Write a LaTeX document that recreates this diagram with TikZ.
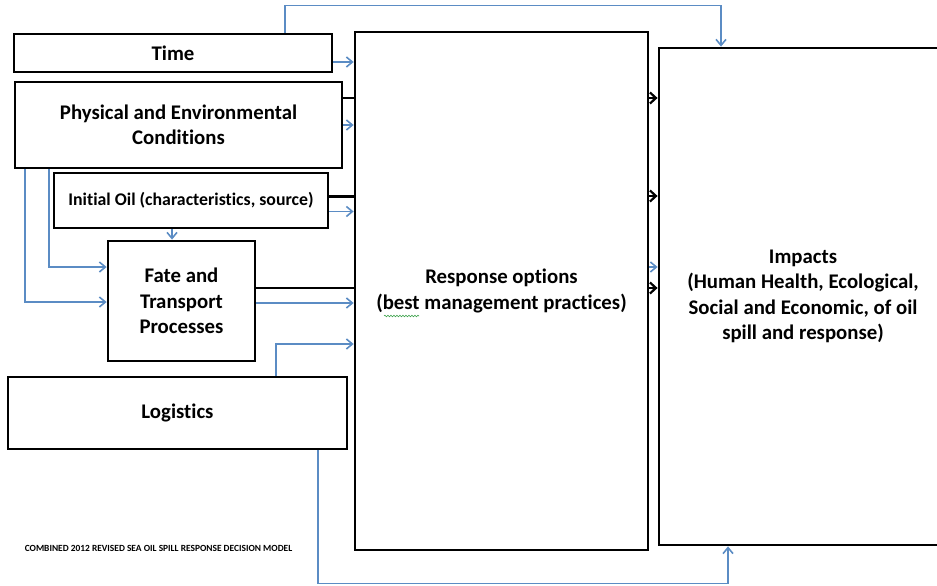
\documentclass[tikz,border=0pt]{standalone}
\usepackage{fontspec}
\setmainfont{Carlito}[Ligatures=NoCommon]
\usetikzlibrary{arrows.meta,decorations.pathmorphing}
\definecolor{linkblue}{HTML}{5B8CC4}
\definecolor{spellgreen}{HTML}{3FA34D}
\tikzset{
  box/.style={draw=black, line width=2.8pt, fill=white, rectangle, inner sep=0pt,
    align=center, font=\fontsize{20.8}{25.5}\selectfont\bfseries},
  flow/.style={draw=linkblue, line width=1.6pt, -{Straight Barb[length=6pt,width=10pt]}},
  flowline/.style={draw=linkblue, line width=1.6pt},
  link/.style={draw=black, line width=2.2pt},
  linkarrow/.style={draw=black, line width=2.2pt, -{Straight Barb[length=6pt,width=11pt]}},
}
\begin{document}
\begin{tikzpicture}[x=1pt,y=-1pt]
\useasboundingbox (0,0) rectangle (937,586);
\clip (0,0) rectangle (937,586);

% decision model boxes
\node[box, minimum width=318pt, minimum height=38pt] (time) at (173,53) {Time};
\node[box, minimum width=327pt, minimum height=86pt] (phys) at (178.5,125)
  {Physical and Environmental\\Conditions};
\node[box, minimum width=274pt, minimum height=55pt, font=\fontsize{17.8}{21}\selectfont\bfseries]
  (oil) at (191,200.5) {Initial Oil (characteristics, source)};
\node[box, minimum width=147pt, minimum height=120pt] (fate) at (181.5,301)
  {Fate and\\Transport\\Processes};
\node[box, minimum width=339pt, minimum height=72pt] (logi) at (177.5,413) {Logistics};
\node[box, minimum width=293pt, minimum height=518pt] (resp) at (501.5,291)
  {Response options\\(best management practices)};
\node[box, minimum width=288pt, minimum height=497pt] (imp) at (803,296.5)
  {Impacts\\(Human Health, Ecological,\\Social and Economic, of oil\\spill and response)};

% spell-check squiggle under "best"
\draw[spellgreen, line width=0.6pt, decorate,
  decoration={snake, amplitude=0.8pt, segment length=3pt}]
  ([xshift=-117.5pt,yshift=-25pt]resp.center) -- ++(35,0);

\node[font=\fontsize{9.4}{11}\selectfont\bfseries, inner sep=0pt] (title) at (158.5,548)
  {COMBINED 2012 REVISED SEA OIL SPILL RESPONSE DECISION MODEL};

% time feeds the impacts directly over the top
\draw[flow] ([xshift=112pt]time.north) -- ++(0,-27) -| ([xshift=-82pt]imp.north);

% inputs into the response options
\draw[flow] ([yshift=-9pt]time.east) coordinate (t1) -- (t1 -| resp.west);
\draw[link] ([yshift=27pt]phys.east) coordinate (p1) -- (p1 -| resp.west);
\draw[flow] (phys.east) -- (phys.east -| resp.west);
\draw[link] ([yshift=4pt]oil.east) coordinate (o1) -- (o1 -| resp.west);
\draw[flow] ([yshift=-11pt]oil.east) coordinate (o2) -- (o2 -| resp.west);
\draw[link] ([yshift=13pt]fate.east) coordinate (f1) -- (f1 -| resp.west);
\draw[flow] ([yshift=-2pt]fate.east) coordinate (f2) -- (f2 -| resp.west);
\draw[flow] ([xshift=98.5pt]logi.north) |- ([yshift=-53pt]resp.west);

% inputs into fate and transport
\draw[flow] ([xshift=-19pt]oil.south) coordinate (o3) -- (o3 |- fate.north);
\draw[flow] ([xshift=-129.5pt]phys.south) |- ([yshift=34pt]fate.west);
\draw[flow] ([xshift=-153.5pt]phys.south) |- ([yshift=-1pt]fate.west);

% logistics runs under the response box to the impacts
\draw[flow] ([xshift=140.5pt]logi.south) -- ++(0,133) -| ([xshift=-75pt]imp.south);

% response options to impacts
\draw[linkarrow] ([yshift=193pt]resp.east) coordinate (r1) -- (r1 -| imp.west);
\draw[linkarrow] ([yshift=95pt]resp.east) coordinate (r2) -- (r2 -| imp.west);
\draw[linkarrow] ([yshift=3pt]resp.east) coordinate (r3) -- (r3 -| imp.west);
\draw[flow] ([yshift=24pt]resp.east) coordinate (r4) -- (r4 -| imp.west);
\end{tikzpicture}
\end{document}
